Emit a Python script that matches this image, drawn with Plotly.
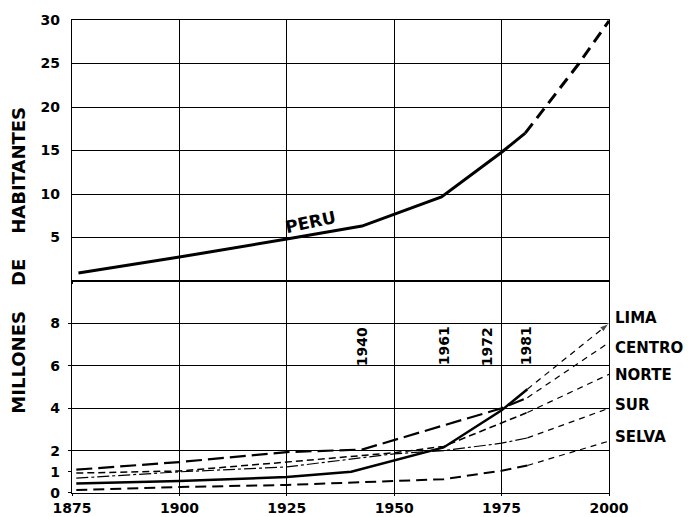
import plotly.graph_objects as go
from plotly.subplots import make_subplots

# Peru total population (millions)
peru_years = [1876.5, 1900, 1925, 1942.5, 1961, 1975, 1980.5]
peru_pop = [0.92, 2.76, 4.83, 6.32, 9.66, 14.8, 17.0]
peru_proj_years = [1980.5, 1993, 2000]
peru_proj_pop = [17.0, 25.0, 29.9]

# Regions (millions), lower panel: observed part, then projection
lima_years = [1876, 1900, 1925, 1940, 1961.5, 1975, 1981]
lima_pop = [0.45, 0.57, 0.75, 1.0, 2.15, 3.9, 4.9]
centro_years = [1876, 1900, 1925, 1942.5, 1975, 1981]
centro_pop = [1.1, 1.46, 1.93, 2.05, 4.0, 4.5]
norte_years = [1876, 1900, 1925, 1950, 1961.5, 1975, 1981]
norte_pop = [0.94, 1.04, 1.46, 1.9, 2.2, 3.3, 3.8]
sur_years = [1876, 1900, 1925, 1950, 1961.5, 1975, 1981]
sur_pop = [0.7, 1.0, 1.23, 1.85, 2.0, 2.35, 2.6]
selva_years = [1876, 1900, 1925, 1950, 1961.5, 1975, 1981]
selva_pop = [0.14, 0.28, 0.38, 0.55, 0.65, 1.05, 1.3]

proj_years = [1981, 2000]
lima_2000 = 8.0
centro_2000 = 7.1
norte_2000 = 5.6
sur_2000 = 4.0
selva_2000 = 2.45

census_labels = ["1940", "1961", "1972", "1981"]
census_label_x = [1942.5, 1961.6, 1971.6, 1980.7]

region_names = ["LIMA", "CENTRO", "NORTE", "SUR", "SELVA"]
region_label_y = [8.25, 6.84, 5.57, 4.15, 2.64]

x_ticks = [1875, 1900, 1925, 1950, 1975, 2000]
upper_ticks = [5, 10, 15, 20, 25, 30]
lower_ticks = [0, 1, 2, 4, 6, 8]
lower_grid = [2, 4, 6, 8]

FONT = "DejaVu Sans"
INK = "black"

fig = make_subplots(
    rows=2, cols=1,
    shared_xaxes=True,
    row_heights=[0.552, 0.448],
    vertical_spacing=0,
)

# Peru
fig.add_trace(go.Scatter(
    x=peru_years, y=peru_pop, mode="lines",
    line=dict(color=INK, width=3),
), row=1, col=1)
fig.add_trace(go.Scatter(
    x=peru_proj_years, y=peru_proj_pop, mode="lines",
    line=dict(color=INK, width=3, dash="12px,7px"),
), row=1, col=1)

# regions, observed part
styles = [
    (lima_years, lima_pop, dict(color=INK, width=2.5)),
    (centro_years, centro_pop, dict(color=INK, width=2.2, dash="16px,6px")),
    (norte_years, norte_pop, dict(color=INK, width=1.5, dash="7px,4px")),
    (sur_years, sur_pop, dict(color=INK, width=1.2, dash="12px,3px,3px,3px")),
    (selva_years, selva_pop, dict(color=INK, width=2, dash="11px,6px")),
]
for xs, ys, ln in styles:
    fig.add_trace(go.Scatter(x=xs, y=ys, mode="lines", line=ln), row=2, col=1)

# projections to 2000
ends = [
    (lima_pop[-1], lima_2000),
    (centro_pop[-1], centro_2000),
    (norte_pop[-1], norte_2000),
    (sur_pop[-1], sur_2000),
    (selva_pop[-1], selva_2000),
]
for i, (y0, y1) in enumerate(ends):
    fig.add_trace(go.Scatter(
        x=proj_years, y=[y0, y1],
        mode="lines+markers" if i == 0 else "lines",
        line=dict(color=INK, width=1.2, dash="6px,5px"),
        marker=dict(symbol="arrow", size=[0, 10], color=INK, angleref="previous"),
    ), row=2, col=1)

tick_font = dict(family=FONT, size=14, color=INK, weight="bold")

fig.update_xaxes(
    range=[1875, 2000], tickvals=x_ticks,
    showgrid=True, gridcolor=INK, gridwidth=1,
    showline=True, linecolor=INK, linewidth=1.2, mirror=True,
    zeroline=False, ticks="outside", ticklen=2, tickcolor=INK,
    tickfont=tick_font, automargin=False,
)
fig.update_yaxes(
    range=[0, 30], tickvals=upper_ticks,
    showgrid=True, gridcolor=INK, gridwidth=1,
    showline=True, linecolor=INK, linewidth=1.2, mirror=True,
    zeroline=False, ticks="", ticklabelstandoff=8, tickfont=tick_font,
    automargin=False,
    row=1, col=1,
)
fig.update_yaxes(
    range=[0, 10], tickvals=lower_ticks,
    showgrid=False,
    minor=dict(tickvals=lower_grid, showgrid=True, gridcolor=INK, gridwidth=1),
    showline=True, linecolor=INK, linewidth=1.2, mirror=True,
    zeroline=False, ticks="outside", ticklen=3, tickcolor=INK,
    ticklabelstandoff=5, tickfont=tick_font, automargin=False,
    row=2, col=1,
)

# PERU label
fig.add_annotation(
    x=1930.5, y=6.8, xref="x", yref="y", text="PERU", showarrow=False,
    textangle=-12, font=dict(family=FONT, size=17, color=INK, weight="bold"),
)

# census year labels
for lbl, xv in zip(census_labels, census_label_x):
    fig.add_annotation(
        x=xv, y=6.93, xref="x2", yref="y2", text=lbl, showarrow=False,
        textangle=-90, font=dict(family=FONT, size=14, color=INK, weight="bold"),
    )

# region labels, just right of the plot area
for name, yv in zip(region_names, region_label_y):
    fig.add_annotation(
        x=1.008, y=yv, xref="paper", yref="y2", text=name, showarrow=False,
        xanchor="left", font=dict(family=FONT, size=15, color=INK, weight="bold"),
    )

# axis title
fig.add_annotation(
    x=-0.099, y=0.493, xref="paper", yref="paper", xanchor="center",
    text="MILLONES    DE    HABITANTES", showarrow=False, textangle=-90,
    font=dict(family=FONT, size=18, color=INK, weight="bold"),
)

# the page body adds an 8px offset, so margins are shifted to compensate
fig.update_layout(
    width=697, height=517,
    margin=dict(l=64, r=96, t=12, b=32),
    paper_bgcolor="white",
    plot_bgcolor="white",
    showlegend=False,
)

fig.write_html("out.html")
